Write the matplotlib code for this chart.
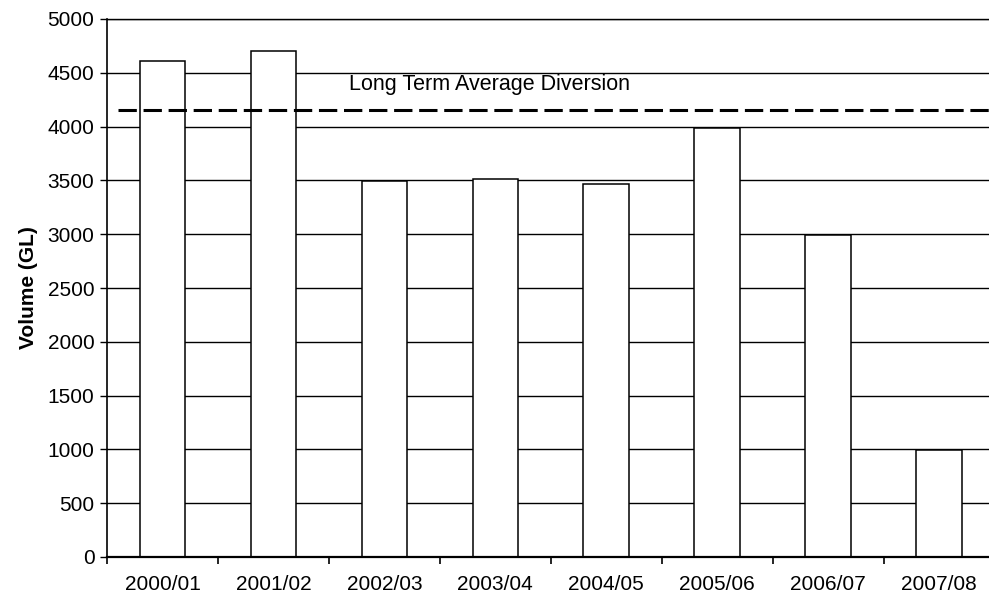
import numpy as np
import matplotlib.pyplot as plt

# water years and diverted volume (GL)
years = ["2000/01", "2001/02", "2002/03", "2003/04",
         "2004/05", "2005/06", "2006/07", "2007/08"]
volume = [4612, 4705, 3490, 3510, 3466, 3984, 2993, 990]
long_term_avg = 4155
y_ticks = list(range(0, 5001, 500))

plt.rcParams["font.family"] = ["Liberation Sans", "DejaVu Sans"]

fig = plt.figure(figsize=(9.89, 5.99), dpi=100)
ax = fig.add_axes([107 / 989, 1 - 557 / 599, 887.5 / 989, 538 / 599])

x = np.arange(len(years))
ax.bar(x, volume, width=0.41, color="white", edgecolor="black",
       linewidth=1.1, zorder=2)

# long term average as a thick dashed line over the bars
ax.hlines(long_term_avg, -0.4, len(years) - 0.5, colors="black",
          linewidth=2.2, linestyles=(0, (6, 2.2)), zorder=3)
ax.text(1.68, 4390, "Long Term Average Diversion", fontsize=15.5,
        ha="left", va="center")

ax.set_xlim(-0.5, len(years) - 0.5)
ax.set_ylim(0, 5000)
ax.set_yticks(y_ticks)
ax.yaxis.grid(True, color="black", linewidth=1.0)
ax.set_axisbelow(True)

# labels centred in each slot, tick marks on the slot boundaries
ax.set_xticks(x)
ax.set_xticklabels(years)
ax.set_xticks(np.arange(len(years) + 1) - 0.5, minor=True)
ax.tick_params(axis="x", which="major", length=0, pad=13, labelsize=15)
ax.tick_params(axis="x", which="minor", length=5, width=1.2, direction="out")
ax.tick_params(axis="y", length=5, width=1.0, pad=4, labelsize=15)

ax.set_ylabel("Volume (GL)", fontsize=15, fontweight="bold")
ax.yaxis.set_label_coords(-0.078, 0.5)

ax.spines["right"].set_visible(False)
ax.spines["top"].set_linewidth(1.0)
ax.spines["left"].set_linewidth(1.2)
ax.spines["bottom"].set_linewidth(1.6)

fig.savefig("out.png", dpi=100)
